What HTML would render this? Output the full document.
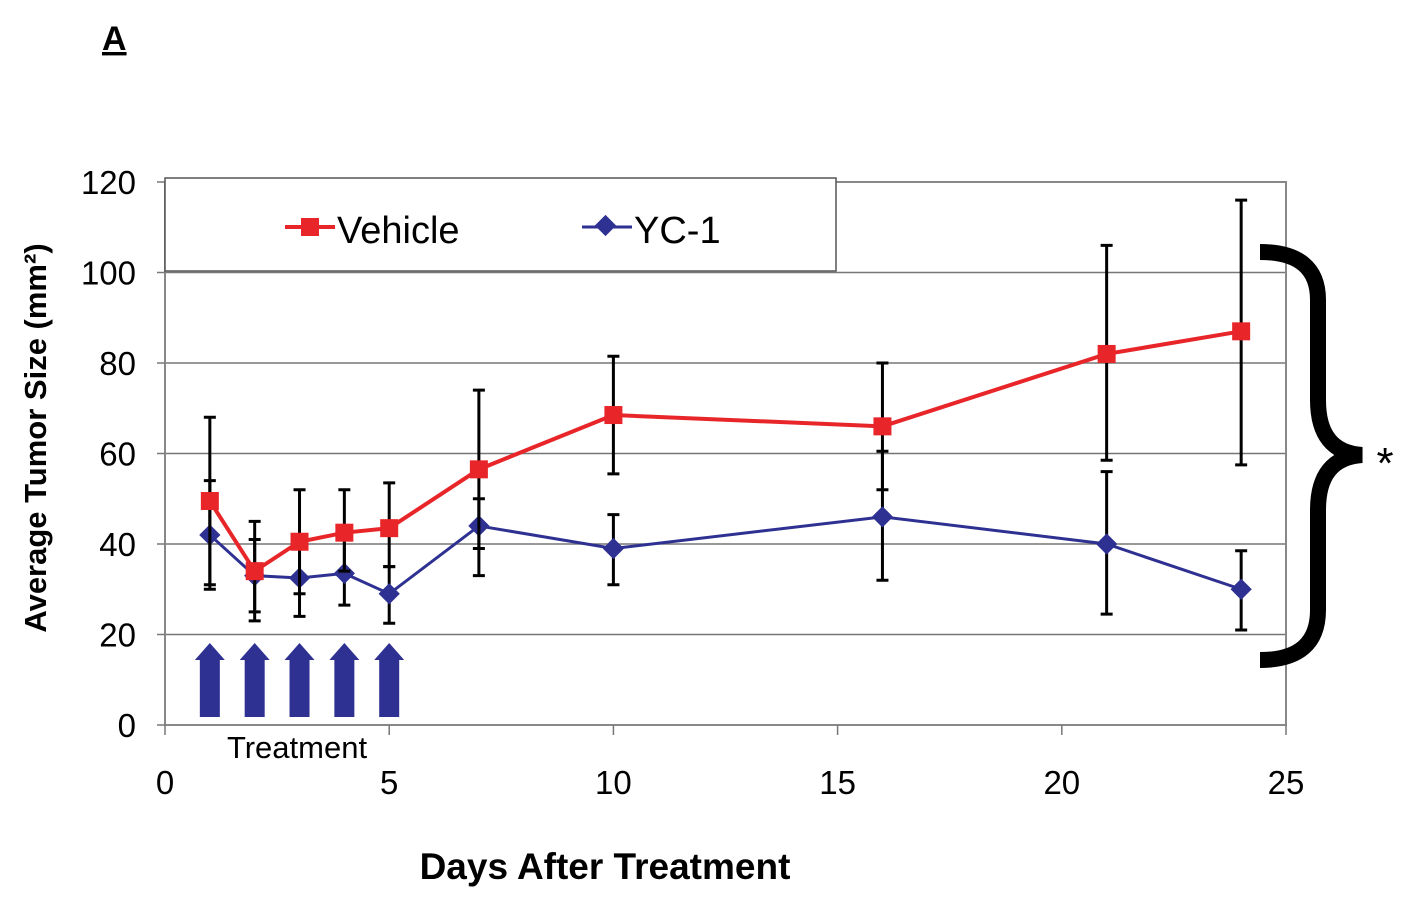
<!DOCTYPE html>
<html><head><meta charset="utf-8"><style>
body{margin:0;background:#fff;}
svg{display:block;font-family:"Liberation Sans",Arial,sans-serif;}
</style></head><body>
<svg id="chart" width="1417" height="908" viewBox="0 0 1417 908">
<text x="102" y="50" font-size="34" font-weight="bold" text-decoration="underline">A</text>
<g id="grid"></g>
<rect x="165" y="182" width="1121" height="543" fill="none" stroke="#888" stroke-width="2"/>
<g id="axes"></g>
<g id="arrows"></g>
<text x="297" y="758" font-size="31" text-anchor="middle">Treatment</text>
<g id="series"></g>
<g>
<rect x="165" y="178" width="671" height="93" fill="#fff" stroke="#555" stroke-width="1.5"/>
<g>
<line x1="285" y1="227" x2="335" y2="227" stroke="#e8262a" stroke-width="4"/>
<rect x="301" y="218" width="18" height="18" fill="#e8262a"/>
<text x="337" y="243" font-size="38">Vehicle</text></g>
<g>
<line x1="582" y1="227" x2="632" y2="227" stroke="#2e3192" stroke-width="3"/>
<rect x="598" y="218" width="15" height="15" fill="#2e3192" transform="rotate(45 605.5 225.5)"/>
<text x="634" y="243" font-size="38">YC-1</text></g>
</g>
<text transform="translate(46 438) rotate(-90)" font-size="31" font-weight="bold" text-anchor="middle">Average Tumor Size (mm²)</text>
<text x="605" y="879" font-size="37" font-weight="bold" text-anchor="middle">Days After Treatment</text>
<path d="M1260 252 Q1318 252 1318 300 L1318 400 Q1318 452 1362 455 Q1318 458 1318 510 L1318 610 Q1318 660 1260 660" fill="none" stroke="#000" stroke-width="16"/>
<text x="1385" y="478" font-size="44" text-anchor="middle">*</text>
</svg>
<script>
const days=[1,2,3,4,5,7,10,16,21,24];
const vehicle=[49.5,34,40.5,42.5,43.5,56.5,68.5,66,82,87];
const vehicleHi=[68,45,52,52,53.5,74,81.5,80,106,116];
const vehicleLo=[31,23,29,34,35,39,55.5,52,58.5,57.5];
const yc1=[42,33,32.5,33.5,29,44,39,46,40,30];
const yc1Hi=[54,41,40,41,35,50,46.5,60.5,56,38.5];
const yc1Lo=[30,25,24,26.5,22.5,33,31,32,24.5,21];
const xTicks=[0,5,10,15,20,25];
const yTicks=[0,20,40,60,80,100,120];
const treatDays=[1,2,3,4,5];
const X=d=>165+d*(1121/25), Y=v=>725-v*(543/120);
const NS="http://www.w3.org/2000/svg";
function mk(tag,attrs,parent){const e=document.createElementNS(NS,tag);for(const k in attrs)e.setAttribute(k,attrs[k]);parent.appendChild(e);return e;}
const grid=document.getElementById('grid'),axes=document.getElementById('axes'),ser=document.getElementById('series'),arr=document.getElementById('arrows');
yTicks.forEach(t=>{if(t>0&&t<120){const g=mk('line',{x1:165,x2:1286,y1:Y(t),y2:Y(t),stroke:'#777','stroke-width':1.5},grid);}
const tk=mk('line',{x1:157,x2:165,y1:Y(t),y2:Y(t),stroke:'#777','stroke-width':1.5},axes);
const tx=mk('text',{x:136,y:Y(t)+12,'font-size':33,'text-anchor':'end'},axes);tx.textContent=t;});
xTicks.forEach(t=>{const tk=mk('line',{x1:X(t),x2:X(t),y1:725,y2:735,stroke:'#777','stroke-width':1.5},axes);
const tx=mk('text',{x:X(t),y:794,'font-size':33,'text-anchor':'middle'},axes);tx.textContent=t;});
treatDays.forEach(d=>{const x=X(d);const p=mk('path',{d:`M${x-10} 717 L${x-10} 660 L${x-15} 660 L${x} 643 L${x+15} 660 L${x+10} 660 L${x+10} 717 Z`,fill:'#2e3192'},arr);});
function series(vals,hi,lo,color,w,shape,name){
  hi.forEach((h,i)=>{const x=X(days[i]);const g=mk('path',{d:`M${x} ${Y(h)} L${x} ${Y(lo[i])} M${x-6} ${Y(h)} L${x+6} ${Y(h)} M${x-6} ${Y(lo[i])} L${x+6} ${Y(lo[i])}`,stroke:'#000','stroke-width':3,fill:'none'},ser);});
  const l=mk('polyline',{points:vals.map((v,i)=>X(days[i])+','+Y(v)).join(' '),fill:'none',stroke:color,'stroke-width':w},ser);
  vals.forEach((v,i)=>{const x=X(days[i]),y=Y(v);let m;
    if(shape==='sq')m=mk('rect',{x:x-9,y:y-9,width:18,height:18,fill:color},ser);
    else m=mk('rect',{x:x-7.5,y:y-7.5,width:15,height:15,fill:color,transform:`rotate(45 ${x} ${y})`},ser);
    });
}
series(yc1,yc1Hi,yc1Lo,'#2e3192',3,'dia','yc1');
series(vehicle,vehicleHi,vehicleLo,'#e8262a',4,'sq','vehicle');
</script>
</body></html>
